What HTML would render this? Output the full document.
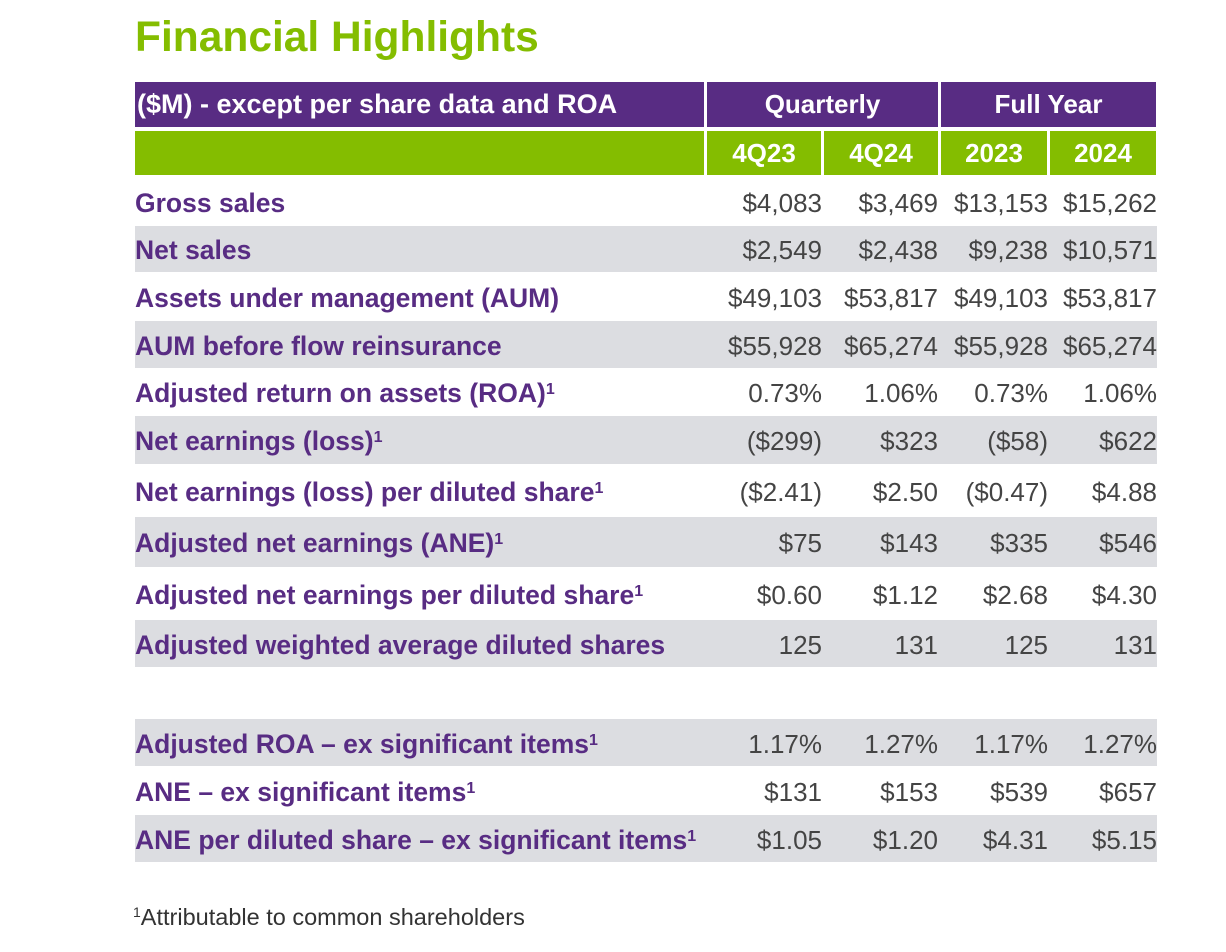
<!DOCTYPE html>
<html><head><meta charset="utf-8"><style>
body{margin:0;width:1226px;height:952px;background:#fff;position:relative;font-family:"Liberation Sans",Arial,sans-serif;overflow:hidden}
.a{position:absolute}
.title{left:135px;top:14px;font-size:42.5px;font-weight:bold;color:#84bd00}
.h{background:#582c83;color:#fff;font-weight:bold;font-size:26px;display:flex;align-items:center;justify-content:center}
.g{background:#84bd00;color:#fff;font-weight:bold;font-size:26px;display:flex;align-items:center;justify-content:center}
.row{left:135px;width:1022px}
.gray{background:#dcdde1}
.lab{left:135px;color:#582c83;font-weight:bold;font-size:26.5px;line-height:1;white-space:nowrap}
.num{color:#444;font-size:26px;text-align:right;line-height:1}
sup{font-size:16px;vertical-align:8px}
</style></head><body>
<div class="a title">Financial Highlights</div>
<div class="a h" style="left:135px;top:82px;width:569px;height:45px;justify-content:flex-start;padding-left:2px;box-sizing:border-box;font-size:27px">($M) - except per share data and ROA</div>
<div class="a h" style="left:707px;top:82px;width:231px;height:45px">Quarterly</div>
<div class="a h" style="left:941px;top:82px;width:215px;height:45px">Full Year</div>
<div class="a g" style="left:135px;top:131px;width:569px;height:44px"></div>
<div class="a g" style="left:707px;top:131px;width:114px;height:44px">4Q23</div>
<div class="a g" style="left:824px;top:131px;width:114px;height:44px">4Q24</div>
<div class="a g" style="left:941px;top:131px;width:106px;height:44px">2023</div>
<div class="a g" style="left:1050px;top:131px;width:106px;height:44px">2024</div>
<div id="t"></div>
<div class="a" style="left:133px;top:904px;font-size:23.5px;color:#333"><sup style="font-size:14px">1</sup>Attributable to common shareholders</div>
<script>
const rows=[
["Gross sales","",178,225,false,["$4,083","$3,469","$13,153","$15,262"]],
["Net sales","",226,272,true,["$2,549","$2,438","$9,238","$10,571"]],
["Assets under management (AUM)","",273,320,false,["$49,103","$53,817","$49,103","$53,817"]],
["AUM before flow reinsurance","",321,368,true,["$55,928","$65,274","$55,928","$65,274"]],
["Adjusted return on assets (ROA)","1",369,415,false,["0.73%","1.06%","0.73%","1.06%"]],
["Net earnings (loss)","1",416,464,true,["($299)","$323","($58)","$622"]],
["Net earnings (loss) per diluted share","1",465,516,false,["($2.41)","$2.50","($0.47)","$4.88"]],
["Adjusted net earnings (ANE)","1",517,567,true,["$75","$143","$335","$546"]],
["Adjusted net earnings per diluted share","1",568,619,false,["$0.60","$1.12","$2.68","$4.30"]],
["Adjusted weighted average diluted shares","",620,667,true,["125","131","125","131"]],
["Adjusted ROA \u2013 ex significant items","1",719,766,true,["1.17%","1.27%","1.17%","1.27%"]],
["ANE \u2013 ex significant items","1",767,814,false,["$131","$153","$539","$657"]],
["ANE per diluted share \u2013 ex significant items","1",815,862,true,["$1.05","$1.20","$4.31","$5.15"]]];
const rights=[822,938,1048,1157];
const t=document.getElementById('t');let h='';
rows.forEach((r,i)=>{const [l,s,y0,y1,g,v]=r;const mid=(y0+y1)/2;
h+=`<div class="a row${g?' gray':''}" style="top:${y0}px;height:${y1-y0}px"></div>`;
h+=`<div class="a lab" style="top:${mid-12}px">${l}${s?'<sup>1</sup>':''}</div>`;
v.forEach((x,j)=>{h+=`<div class="a num" style="left:${rights[j]-150}px;width:150px;top:${mid-12}px">${x}</div>`;});});
t.innerHTML=h;
</script>
</body></html>
